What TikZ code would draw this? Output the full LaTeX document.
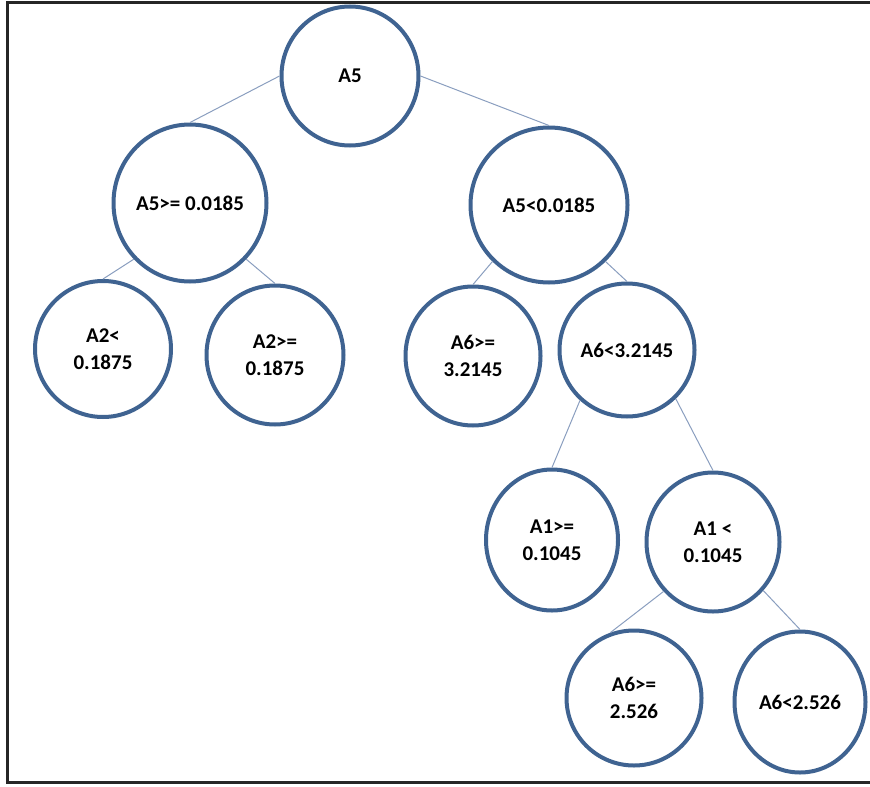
\documentclass[tikz,border=0pt]{standalone}
\usepackage{fontspec}
\setmainfont{Carlito}
\usetikzlibrary{shapes.geometric}
\definecolor{ringblue}{HTML}{3F6391}
\definecolor{linkblue}{HTML}{8A9EBF}
\begin{document}
\begin{tikzpicture}[x=1pt,y=-1pt,
  tnode/.style={ellipse, draw=ringblue, line width=4pt, fill=white, inner sep=0pt, align=center,
    font=\fontsize{21}{27}\selectfont\bfseries},
  link/.style={draw=linkblue, line width=1pt}]
\useasboundingbox (0,0) rectangle (870,787);
\draw[line width=3pt, black!85] (7,2.5) rectangle (880,782.5);

\node[tnode, minimum width=137pt, minimum height=139pt] (r)   at (350,76)  {A5};
\node[tnode, minimum width=153pt, minimum height=157pt] (n1)  at (190,203) {A5>= 0.0185};
\node[tnode, minimum width=157pt, minimum height=155pt] (n2)  at (549,205) {A5<0.0185};
\node[tnode, minimum width=136pt, minimum height=136pt] (a2l) at (103,349) {A2<\\0.1875};
\node[tnode, minimum width=137pt, minimum height=139pt] (a2g) at (275,355) {A2>=\\0.1875};
\node[tnode, minimum width=135pt, minimum height=139pt] (a6g) at (473,356) {A6>=\\3.2145};
\node[tnode, minimum width=135pt, minimum height=133pt] (a6l) at (627,350) {A6<3.2145};
\node[tnode, minimum width=132pt, minimum height=141pt] (a1g) at (552,540) {A1>=\\0.1045};
\node[tnode, minimum width=133pt, minimum height=139pt] (a1l) at (713,542) {A1 <\\0.1045};
\node[tnode, minimum width=135pt, minimum height=135pt] (b6g) at (634,698) {A6>=\\2.526};
\node[tnode, minimum width=131pt, minimum height=141pt] (b6l) at (800,702) {A6<2.526};

\draw[link] (r.west) -- (n1.north);
\draw[link] (r.east) -- (n2.north);
\draw[link] (n1.225) -- (a2l.north);
\draw[link] (n1.315) -- (a2g.north);
\draw[link] (n2.225) -- (a6g.north);
\draw[link] (n2.315) -- (a6l.north);
\draw[link] (a6l.227) -- (a1g.north);
\draw[link] (a6l.315) -- (a1l.north);
\draw[link] (a1l.225) -- (b6g.110);
\draw[link] (a1l.316) -- (b6l.north);
\end{tikzpicture}
\end{document}
